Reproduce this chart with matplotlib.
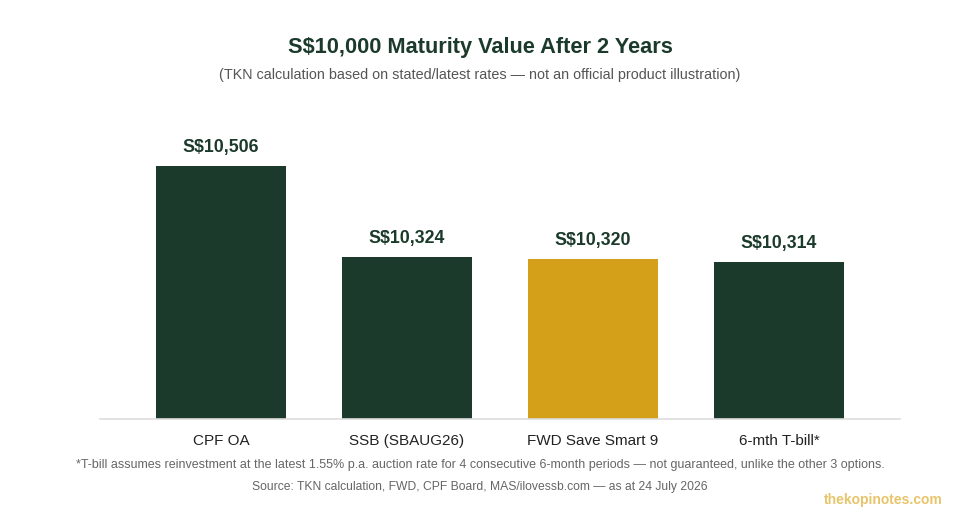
import matplotlib.pyplot as plt

plt.rcParams["font.family"] = ["Liberation Sans", "DejaVu Sans"]

categories = ["CPF OA", "SSB (SBAUG26)", "FWD Save Smart 9", "6-mth T-bill*"]
values = [10506, 10324, 10320, 10314]
highlight = "FWD Save Smart 9"

green = "#1b3a2b"
gold = "#d4a01a"
colors = [gold if c == highlight else green for c in categories]

fig = plt.figure(figsize=(9.6, 5.2), dpi=100)
ax = fig.add_axes([100 / 960, 101 / 520, 800 / 960, 300 / 520])

x = range(len(categories))
ax.bar(x, values, width=0.7, color=colors, zorder=2)
for xi, v in zip(x, values):
    ax.annotate(f"S${v:,}", (xi, v), xytext=(0, 7), textcoords="offset points",
                ha="center", va="bottom", fontsize=12.8, fontweight="bold", color=green)

ax.set_xlim(-0.65, 3.65)
ax.set_ylim(10000, 10600)
ax.set_xticks(list(x))
ax.set_xticklabels(categories, fontsize=11, color="#222222")
ax.tick_params(axis="x", length=0, pad=11)
ax.set_yticks([])
for s in ["top", "right", "left"]:
    ax.spines[s].set_visible(False)
ax.spines["bottom"].set_color("#dddddd")
ax.spines["bottom"].set_linewidth(1.2)

fig.text(0.5, 1 - 47 / 520, "S$10,000 Maturity Value After 2 Years", ha="center", va="center",
         fontsize=15.7, fontweight="bold", color=green)
fig.text(0.5, 1 - 75 / 520,
         "(TKN calculation based on stated/latest rates \u2014 not an official product illustration)",
         ha="center", va="center", fontsize=10.4, color="#555555")
fig.text(0.5, 1 - 465 / 520,
         "*T-bill assumes reinvestment at the latest 1.55% p.a. auction rate for 4 consecutive 6-month periods"
         " \u2014 not guaranteed, unlike the other 3 options.",
         ha="center", va="center", fontsize=9, color="#666666")
fig.text(0.5, 1 - 487 / 520,
         "Source: TKN calculation, FWD, CPF Board, MAS/ilovessb.com \u2014 as at 24 July 2026",
         ha="center", va="center", fontsize=8.7, color="#666666")
fig.text(943 / 960, 1 - 500 / 520, "thekopinotes.com", ha="right", va="center",
         fontsize=10, fontweight="bold", color="#e8c46a")

fig.savefig("out.png", dpi=100, facecolor="white")
